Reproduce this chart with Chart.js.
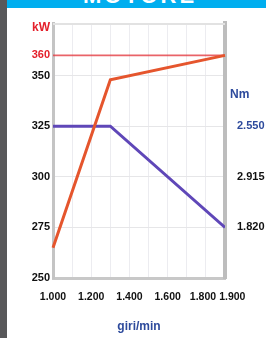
<!DOCTYPE html>
<html lang="it">
<head>
    <meta charset="UTF-8">
    <title>Motore - curve</title>
    <script src="https://cdn.jsdelivr.net/npm/chart.js"></script>
    <style>
        html, body {
            margin: 0;
            padding: 0;
            background: #fff;
        }
        .page {
            position: relative;
            width: 266px;
            height: 338px;
            overflow: hidden;
            font-family: "Liberation Sans", Arial, sans-serif;
        }
        .strip {
            position: absolute;
            left: 0; top: 0;
            width: 7px; height: 338px;
            background: #58585a;
        }
        .header {
            position: absolute;
            left: 7px; top: 0;
            right: 0; height: 8px;
            background: #00aeef;
            overflow: hidden;
        }
        .header span {
            position: absolute;
            left: 76px; top: -16px;
            line-height: 24px;
            color: #fff;
            font-weight: bold;
            font-size: 22px;
            letter-spacing: 3px;
        }
        canvas {
            position: absolute;
            left: 0; top: 0;
        }
    </style>
</head>
<body>
<div class="page">
    <canvas id="motorChart" width="266" height="338"></canvas>
    <div class="strip"></div>
    <div class="header"><span>MOTORE</span></div>
</div>

<script>
    // regime (giri/min)
    const rpm = [1000, 1300, 1900];
    // potenza kW
    const powerKw = [265, 348, 360];
    // coppia Nm
    const torqueNm = [2550, 2550, 1820];

    const kwTicks = [250, 275, 300, 325, 350, 360];
    const kwMaxLine = 360;
    // spaces nudge the last two labels apart like in the print
    const rpmLabels = { 1000: "1.000", 1200: "1.200", 1400: "1.400", 1600: "1.600", 1800: "1.800  ", 1900: "     1.900" };
    const nmTickValues = [1820, 2185, 2550];
    const nmTickLabels = ["1.820", "2.915", "2.550"];

    const RED = "#e4202b";
    const LINE_RED = "#e5552d";
    const BLUE = "#2d4a9c";
    const LINE_BLUE = "#5f47b8";

    // the two y axes line up: 2550 Nm on 325 kW, 1820 Nm on 275 kW
    const kwMin = 250, kwMax = 376;
    const nmPerKw = (2550 - 1820) / 50;
    const nmMin = 1820 - (275 - kwMin) * nmPerKw;
    const nmMax = 2550 + (kwMax - 325) * nmPerKw;

    const labelsPlugin = {
        id: "labels",
        beforeDatasetsDraw(chart) {
            const c = chart.ctx;
            const area = chart.chartArea;
            const y = chart.scales.y.getPixelForValue(kwMaxLine);
            c.save();
            c.strokeStyle = "rgba(228,60,66,0.8)";
            c.lineWidth = 1.6;
            c.beginPath();
            c.moveTo(area.left, y);
            c.lineTo(area.right, y);
            c.stroke();
            c.restore();
        },
        afterDraw(chart) {
            const c = chart.ctx;
            const area = chart.chartArea;
            c.save();
            // top of the frame
            c.strokeStyle = "#e2e2e2";
            c.lineWidth = 2;
            c.beginPath();
            c.moveTo(area.left, area.top + 1);
            c.lineTo(area.right, area.top + 1);
            c.stroke();
            c.font = "bold 12px 'Liberation Sans', Arial, sans-serif";
            c.textBaseline = "middle";
            c.fillStyle = RED;
            c.textAlign = "right";
            c.fillText("kW", 50, 28);
            c.fillStyle = BLUE;
            c.textAlign = "left";
            c.fillText("Nm", 230, 95);
            c.restore();
        }
    };

    new Chart(document.getElementById("motorChart"), {
        type: "line",
        data: {
            datasets: [{
                label: "kW",
                data: rpm.map((r, i) => ({ x: r, y: powerKw[i] })),
                borderColor: LINE_RED,
                borderWidth: 3,
                pointRadius: 0,
                yAxisID: "y",
                clip: false
            }, {
                label: "Nm",
                data: rpm.map((r, i) => ({ x: r, y: torqueNm[i] })),
                borderColor: LINE_BLUE,
                borderWidth: 3,
                pointRadius: 0,
                yAxisID: "y2"
            }]
        },
        options: {
            responsive: false,
            animation: false,
            layout: { padding: { top: 23, left: 0, right: 0, bottom: 0 } },
            plugins: { legend: { display: false }, tooltip: { enabled: false } },
            scales: {
                x: {
                    type: "linear",
                    min: 1000,
                    max: 1900,
                    afterFit: s => { s.height = 60; },
                    afterBuildTicks: s => {
                        s.ticks = [];
                        for (let v = 1000; v <= 1900; v += 100) s.ticks.push({ value: v });
                    },
                    ticks: {
                        autoSkip: false,
                        maxRotation: 0,
                        padding: 13,
                        color: "#111",
                        font: { family: "'Liberation Sans', Arial", size: 10.5, weight: "bold" },
                        callback: v => rpmLabels[v] || ""
                    },
                    grid: { color: "#ececf0", lineWidth: 1, tickLength: 0 },
                    border: { color: "#c8c8c8", width: 3 },
                    title: {
                        display: true,
                        text: "giri/min",
                        color: BLUE,
                        padding: { top: 9 },
                        font: { family: "'Liberation Sans', Arial", size: 12, weight: "bold" }
                    }
                },
                y: {
                    position: "left",
                    min: kwMin,
                    max: kwMax,
                    afterFit: s => { s.width = 53; },
                    afterBuildTicks: s => { s.ticks = kwTicks.map(v => ({ value: v })); },
                    ticks: {
                        padding: 3,
                        color: ctx => ctx.tick.value === kwMaxLine ? RED : "#111",
                        font: { family: "'Liberation Sans', Arial", size: 11, weight: "bold" }
                    },
                    grid: {
                        color: ctx => kwTicks[ctx.index] === kwMaxLine ? "rgba(0,0,0,0)" : "#e6e6e8",
                        lineWidth: 1,
                        tickLength: 0
                    },
                    border: { color: "#c4c4c4", width: 3 }
                },
                y2: {
                    position: "right",
                    min: nmMin,
                    max: nmMax,
                    afterFit: s => { s.width = 41; },
                    afterBuildTicks: s => { s.ticks = nmTickValues.map(v => ({ value: v })); },
                    ticks: {
                        padding: 4,
                        color: ctx => ctx.tick.value === 2550 ? BLUE : "#111",
                        font: { family: "'Liberation Sans', Arial", size: 11, weight: "bold" },
                        callback: v => nmTickLabels[nmTickValues.indexOf(v)]
                    },
                    grid: { display: false, drawOnChartArea: false },
                    border: { color: "#bdbdbd", width: 4 }
                }
            }
        },
        plugins: [labelsPlugin]
    });
</script>
</body>
</html>
